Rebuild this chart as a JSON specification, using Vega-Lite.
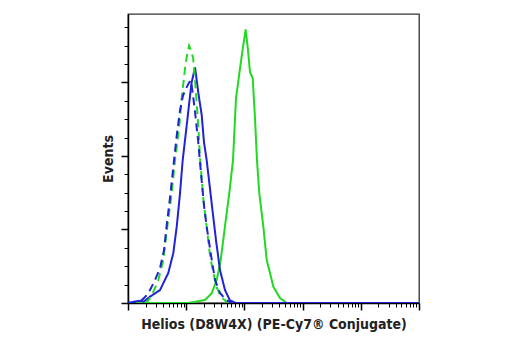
{
  "$schema": "https://vega.github.io/schema/vega-lite/v6.json",
  "width": 291,
  "height": 289,
  "autosize": "none",
  "padding": {"left": 128, "top": 14, "right": 101, "bottom": 47},
  "background": "white",
  "config": {
    "view": {"stroke": "#333", "strokeWidth": 1.3},
    "font": "DejaVu Sans Condensed, Liberation Sans, sans-serif"
  },
  "data": {
    "values": [
      {"series": "A", "x": 1, "y": 0},
      {"series": "A", "x": 10.7, "y": 0},
      {"series": "A", "x": 21.0, "y": 2},
      {"series": "A", "x": 27.4, "y": 6.6},
      {"series": "A", "x": 33.4, "y": 15.6},
      {"series": "A", "x": 39.2, "y": 29.2},
      {"series": "A", "x": 46.4, "y": 52.2},
      {"series": "A", "x": 55.0, "y": 74.7},
      {"series": "A", "x": 63.7, "y": 97.1},
      {"series": "A", "x": 71.7, "y": 139.2},
      {"series": "A", "x": 84.0, "y": 159.4},
      {"series": "A", "x": 92.8, "y": 171.8},
      {"series": "A", "x": 105.2, "y": 186},
      {"series": "A", "x": 115.3, "y": 171.8},
      {"series": "A", "x": 124.8, "y": 157},
      {"series": "A", "x": 139.0, "y": 152.8},
      {"series": "A", "x": 152.1, "y": 125.6},
      {"series": "A", "x": 164.5, "y": 97.1},
      {"series": "A", "x": 180.3, "y": 74.7},
      {"series": "A", "x": 211.2, "y": 52.2},
      {"series": "A", "x": 241.7, "y": 29.2},
      {"series": "A", "x": 275.4, "y": 20.4},
      {"series": "A", "x": 314, "y": 11.1},
      {"series": "A", "x": 409, "y": 3.4},
      {"series": "A", "x": 533, "y": 0},
      {"series": "A", "x": 100000, "y": 0},

      {"series": "B", "x": 1, "y": 0},
      {"series": "B", "x": 1.22, "y": 0.7},
      {"series": "B", "x": 1.485, "y": 1.4},
      {"series": "B", "x": 1.88, "y": 1.0},
      {"series": "B", "x": 2.39, "y": 4.3},
      {"series": "B", "x": 3.55, "y": 8.8},
      {"series": "B", "x": 4.92, "y": 20.4},
      {"series": "B", "x": 6.0, "y": 33.9},
      {"series": "B", "x": 6.87, "y": 51.8},
      {"series": "B", "x": 7.82, "y": 74.4},
      {"series": "B", "x": 8.7, "y": 97},
      {"series": "B", "x": 10.2, "y": 120.7},
      {"series": "B", "x": 11.3, "y": 136.5},
      {"series": "B", "x": 12.4, "y": 150},
      {"series": "B", "x": 14.2, "y": 160.2},
      {"series": "B", "x": 16.1, "y": 143.3},
      {"series": "B", "x": 18.5, "y": 127.5},
      {"series": "B", "x": 20.2, "y": 109.4},
      {"series": "B", "x": 22.5, "y": 97},
      {"series": "B", "x": 27.4, "y": 67.8},
      {"series": "B", "x": 32.5, "y": 42.7},
      {"series": "B", "x": 38.1, "y": 22.4},
      {"series": "B", "x": 46.4, "y": 8.8},
      {"series": "B", "x": 56.6, "y": 1.7},
      {"series": "B", "x": 71.7, "y": 0},
      {"series": "B", "x": 100000, "y": 0},

      {"series": "C", "x": 1.96, "y": 0},
      {"series": "C", "x": 2.23, "y": 1.7},
      {"series": "C", "x": 2.55, "y": 5.4},
      {"series": "C", "x": 2.91, "y": 10.2},
      {"series": "C", "x": 3.32, "y": 15.6},
      {"series": "C", "x": 4.04, "y": 29.2},
      {"series": "C", "x": 4.73, "y": 51.8},
      {"series": "C", "x": 5.63, "y": 74.4},
      {"series": "C", "x": 6.42, "y": 97},
      {"series": "C", "x": 7.09, "y": 110.5},
      {"series": "C", "x": 7.61, "y": 120.7},
      {"series": "C", "x": 8.37, "y": 139},
      {"series": "C", "x": 9.53, "y": 159.4},
      {"series": "C", "x": 10.3, "y": 168.2},
      {"series": "C", "x": 11.2, "y": 175},
      {"series": "C", "x": 12.1, "y": 171.6},
      {"series": "C", "x": 13.2, "y": 166.2},
      {"series": "C", "x": 14.7, "y": 143.3},
      {"series": "C", "x": 16.1, "y": 120.7},
      {"series": "C", "x": 17.3, "y": 98.3},
      {"series": "C", "x": 19.8, "y": 69.8},
      {"series": "C", "x": 22.5, "y": 51.8},
      {"series": "C", "x": 25.6, "y": 32.5},
      {"series": "C", "x": 29.2, "y": 20.4},
      {"series": "C", "x": 33.8, "y": 10.2},
      {"series": "C", "x": 39.6, "y": 4.1},
      {"series": "C", "x": 50.2, "y": 0.7},
      {"series": "C", "x": 61.2, "y": 0},

      {"series": "D", "x": 1, "y": 0},
      {"series": "D", "x": 1.32, "y": 0.3},
      {"series": "D", "x": 1.74, "y": 2},
      {"series": "D", "x": 2.04, "y": 4.8},
      {"series": "D", "x": 2.39, "y": 8.8},
      {"series": "D", "x": 2.91, "y": 15.6},
      {"series": "D", "x": 3.55, "y": 23.7},
      {"series": "D", "x": 4.16, "y": 36},
      {"series": "D", "x": 4.59, "y": 51.8},
      {"series": "D", "x": 5.37, "y": 74.4},
      {"series": "D", "x": 6.17, "y": 97},
      {"series": "D", "x": 6.95, "y": 115.3},
      {"series": "D", "x": 7.82, "y": 130.9},
      {"series": "D", "x": 8.81, "y": 141},
      {"series": "D", "x": 9.93, "y": 145.8},
      {"series": "D", "x": 11.2, "y": 149.9},
      {"series": "D", "x": 12.1, "y": 151.3},
      {"series": "D", "x": 13.1, "y": 141},
      {"series": "D", "x": 14.2, "y": 129.7},
      {"series": "D", "x": 16.0, "y": 110.5},
      {"series": "D", "x": 17.9, "y": 88.8},
      {"series": "D", "x": 20.2, "y": 66.4},
      {"series": "D", "x": 22.5, "y": 51.8},
      {"series": "D", "x": 26.7, "y": 32.5},
      {"series": "D", "x": 31.3, "y": 15.6},
      {"series": "D", "x": 38.1, "y": 6.8},
      {"series": "D", "x": 48.3, "y": 2},
      {"series": "D", "x": 61.2, "y": 0}
    ]
  },
  "mark": {"type": "line", "clip": true},
  "encoding": {
    "x": {
      "field": "x",
      "type": "quantitative",
      "scale": {"type": "log", "domain": [1, 100000], "nice": false},
      "axis": {
        "title": "Helios (D8W4X) (PE-Cy7® Conjugate)",
        "titleFont": "DejaVu Sans Condensed, Liberation Sans, sans-serif",
        "titleFontSize": 14,
        "titleFontWeight": "bold",
        "titleColor": "#222",
        "titlePadding": 7,
        "labels": false,
        "grid": false,
        "domainColor": "#000",
        "domainWidth": 1.5,
        "tickColor": "#000",
        "values": [1,2,3,4,5,6,7,8,9,10,20,30,40,50,60,70,80,90,100,200,300,400,500,600,700,800,900,1000,2000,3000,4000,5000,6000,7000,8000,9000,10000,20000,30000,40000,50000,60000,70000,80000,90000,100000],
        "tickSize": {"condition": {"test": "abs(log(datum.value)/LN10 - round(log(datum.value)/LN10)) < 0.000001", "value": 7}, "value": 4},
        "tickWidth": {"condition": {"test": "abs(log(datum.value)/LN10 - round(log(datum.value)/LN10)) < 0.000001", "value": 1.5}, "value": 1}
      }
    },
    "y": {
      "field": "y",
      "type": "quantitative",
      "scale": {"domain": [0, 196.5], "nice": false, "zero": true},
      "axis": {
        "title": "Events",
        "titleFont": "DejaVu Sans Condensed, Liberation Sans, sans-serif",
        "titleFontSize": 14,
        "titleFontWeight": "bold",
        "titleColor": "#222",
        "titlePadding": 5,
        "labels": false,
        "grid": false,
        "domainColor": "#000",
        "domainWidth": 1.5,
        "tickColor": "#000",
        "values": [0,12.5,25,37.5,50,62.5,75,87.5,100,112.5,125,137.5,150,162.5,175,187.5],
        "tickSize": {"condition": {"test": "datum.value % 50 === 0", "value": 7}, "value": 4},
        "tickWidth": {"condition": {"test": "datum.value % 50 === 0", "value": 1.5}, "value": 1}
      }
    },
    "color": {
      "field": "series",
      "type": "nominal",
      "scale": {"domain": ["A", "B", "C", "D"], "range": ["#22d822", "#2222d6", "#22d822", "#2222d6"]},
      "legend": null
    },
    "strokeDash": {
      "field": "series",
      "type": "nominal",
      "scale": {"domain": ["A", "B", "C", "D"], "range": [[1, 0], [1, 0], [8, 5], [8, 5]]},
      "legend": null
    },
    "strokeWidth": {
      "field": "series",
      "type": "nominal",
      "scale": {"domain": ["A", "B", "C", "D"], "range": [2, 2, 2.6, 2.6]},
      "legend": null
    }
  }
}
